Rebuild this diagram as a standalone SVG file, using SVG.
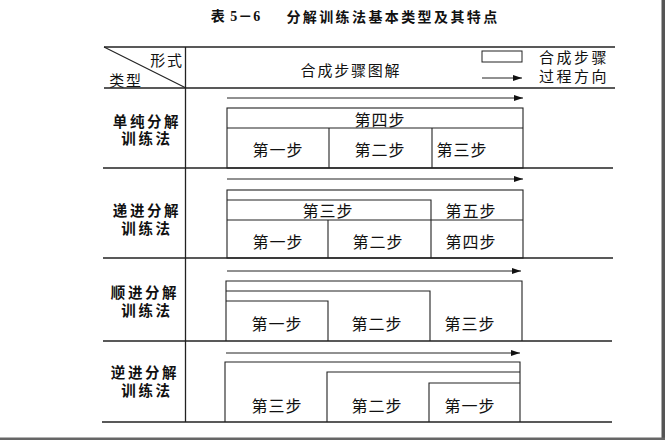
<svg xmlns="http://www.w3.org/2000/svg" width="665" height="440" viewBox="0 0 665 440">
<defs>
<marker id="ah" markerWidth="9" markerHeight="6" refX="9" refY="3" orient="auto" markerUnits="userSpaceOnUse">
<path d="M0,0 L9,3 L0,6 Z" fill="#111"/>
</marker>
<style>
text{font-family:"Noto Sans CJK SC","Noto Sans",sans-serif;fill:#111;text-anchor:middle;dominant-baseline:central}
.title{font-size:14px;font-weight:bold;letter-spacing:2.4px}
.hd{font-size:15px;letter-spacing:1.8px}
.lab{font-family:"Liberation Sans","Noto Sans CJK SC",sans-serif;font-size:14.5px;font-weight:bold;letter-spacing:2.6px}
.st{font-size:16px;letter-spacing:1px}
.tl{stroke:#222;stroke-width:1.3;fill:none}
.bx{stroke:#222;stroke-width:1.1;fill:none}
.ar{stroke:#222;stroke-width:1;fill:none;marker-end:url(#ah)}
</style>
</defs>
<rect x="0" y="0" width="665" height="440" fill="#fff"/>
<rect x="661.5" y="0" width="3.5" height="440" fill="#555"/>
<rect x="0" y="437.5" width="665" height="2.5" fill="#666"/>

<g id="title">
<text x="236" y="16" class="title" style="font-family:'Liberation Serif','Noto Sans CJK SC',serif;letter-spacing:1px">表 5－6</text>
<text x="393" y="16" class="title">分解训练法基本类型及其特点</text>
</g>

<g id="table">
<line class="tl" x1="104" y1="47" x2="615" y2="47" style="stroke-width:1.6"/>
<line class="tl" x1="104" y1="88" x2="615" y2="88"/>
<line class="tl" x1="103" y1="168" x2="613" y2="168"/>
<line class="tl" x1="103" y1="258" x2="613" y2="258"/>
<line class="tl" x1="103" y1="341" x2="612" y2="341"/>
<line class="tl" x1="102" y1="422" x2="612" y2="422" style="stroke-width:1.6"/>
<line class="tl" x1="185.5" y1="47" x2="185.5" y2="422"/>
<line class="tl" x1="104" y1="47" x2="186" y2="88" style="stroke-width:1.1"/>
</g>

<g id="header">
<text x="167" y="59" class="hd">形式</text>
<text x="126" y="79" class="hd">类型</text>
<text x="351" y="69.5" class="hd">合成步骤图解</text>
</g>

<g id="legend">
<rect x="482" y="51" width="40" height="11" class="bx" style="stroke-width:1"/>
<text x="574" y="65.5" class="hd" style="letter-spacing:2.5px"><tspan x="574" y="56">合成步骤</tspan><tspan x="574" y="75">过程方向</tspan></text>
</g>

<g id="labels">
<text class="lab"><tspan x="147" y="122">单纯分解</tspan><tspan x="147" y="139">训练法</tspan></text>
<text class="lab"><tspan x="147" y="210.5">递进分解</tspan><tspan x="147" y="228.5">训练法</tspan></text>
<text class="lab"><tspan x="145" y="293">顺进分解</tspan><tspan x="147" y="311">训练法</tspan></text>
<text class="lab"><tspan x="145" y="373">逆进分解</tspan><tspan x="147" y="391">训练法</tspan></text>
</g>

<g id="row1">
<rect x="227" y="108" width="296" height="60" class="bx"/>
<line class="bx" x1="227" y1="128" x2="523" y2="128"/>
<line class="bx" x1="329" y1="128" x2="329" y2="168"/>
<line class="bx" x1="432" y1="128" x2="432" y2="168"/>
<text x="380" y="119" class="st">第四步</text>
<text x="278" y="149" class="st">第一步</text>
<text x="380" y="149" class="st">第二步</text>
<text x="462" y="149" class="st">第三步</text>
</g>

<g id="row2">
<rect x="227" y="190" width="296" height="68" class="bx"/>
<polyline class="bx" points="227,200 431,200 431,258"/>
<line class="bx" x1="227" y1="220" x2="523" y2="220"/>
<line class="bx" x1="328" y1="220" x2="328" y2="258"/>
<text x="328" y="210" class="st">第三步</text>
<text x="471" y="210" class="st">第五步</text>
<text x="278" y="240.5" class="st">第一步</text>
<text x="378" y="240.5" class="st">第二步</text>
<text x="471" y="240.5" class="st">第四步</text>
</g>

<g id="row3">
<polyline class="bx" points="226,341 226,281 522,281 522,341"/>
<polyline class="bx" points="226,291 430,291 430,341"/>
<polyline class="bx" points="226,301 328,301 328,341"/>
<text x="277" y="322.5" class="st">第一步</text>
<text x="377" y="322.5" class="st">第二步</text>
<text x="470" y="322.5" class="st">第三步</text>
</g>

<g id="row4">
<polyline class="bx" points="225,422 225,362 520,362 520,422"/>
<polyline class="bx" points="327,422 327,372 520,372"/>
<polyline class="bx" points="429,422 429,383 520,383"/>
<text x="277" y="404.5" class="st">第三步</text>
<text x="377" y="404.5" class="st">第二步</text>
<text x="470" y="404.5" class="st">第一步</text>
</g>

<g id="connectors">
<line class="ar" x1="482" y1="78" x2="522" y2="78"/>
<line class="ar" x1="227" y1="98" x2="523" y2="98"/>
<line class="ar" x1="227" y1="179" x2="523" y2="179"/>
<line class="ar" x1="227" y1="271" x2="521" y2="271"/>
<line class="ar" x1="226" y1="353" x2="520" y2="353"/>
</g>
</svg>
